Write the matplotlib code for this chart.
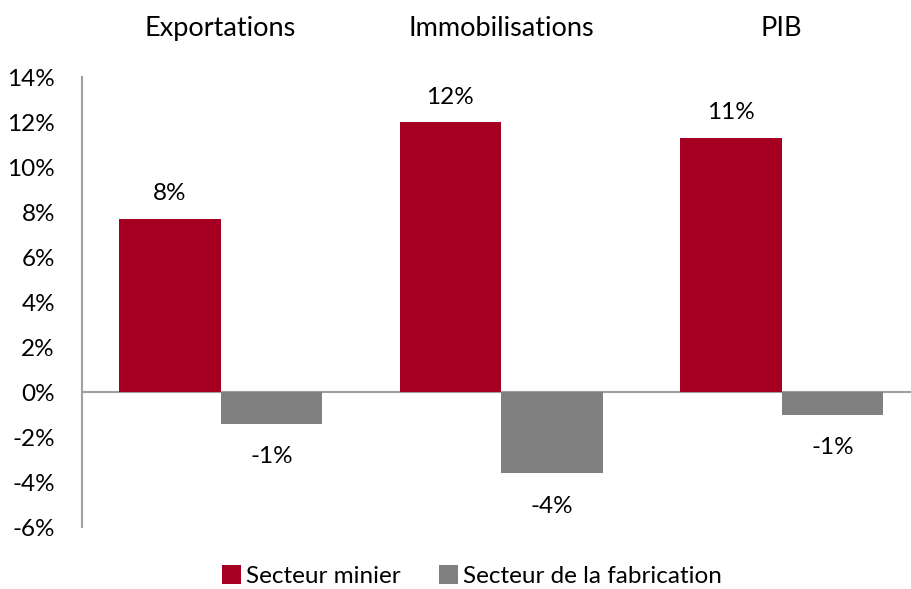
import matplotlib
matplotlib.use("Agg")
import matplotlib.pyplot as plt
import numpy as np

categories = ["Exportations", "Immobilisations", "PIB"]
minier = [7.7, 12.0, 11.3]
fabrication = [-1.4, -3.6, -1.0]
minier_labels = ["8%", "12%", "11%"]
fabrication_labels = ["-1%", "-4%", "-1%"]
yticks = [-6, -4, -2, 0, 2, 4, 6, 8, 10, 12, 14]

plt.rcParams['font.family'] = ['Lato', 'DejaVu Sans']

fig = plt.figure(figsize=(9.11, 5.89), dpi=100)
ax = fig.add_axes([0.090, 0.105, 0.910, 0.764])

x = np.arange(len(categories))
w = 0.362
red = "#A50021"
gray = "#808080"
b1 = ax.bar(x - w/2, minier, w, color=red, label="Secteur minier")
b2 = ax.bar(x + w/2, fabrication, w, color=gray, label="Secteur de la fabrication")

for xi, v, lab in zip(x, minier, minier_labels):
    ax.annotate(lab, (xi - w/2, v), xytext=(0, 18), textcoords="offset points",
                ha="center", va="center", fontsize=17.5, color="black")
for xi, v, lab in zip(x, fabrication, fabrication_labels):
    ax.annotate(lab, (xi + w/2, v), xytext=(0, -24), textcoords="offset points",
                ha="center", va="center", fontsize=17.5, color="black")

for xi, c in zip(x, categories):
    ax.text(xi, 1.108, c, transform=ax.get_xaxis_transform(), ha="center",
            va="center", fontsize=19.5, color="black")

ax.set_xlim(-0.494, 2.461)
ax.set_ylim(-6, 14)
ax.set_yticks(yticks)
ax.set_yticklabels([f"{t}%" for t in yticks], fontsize=17.5)
ax.tick_params(axis="y", length=0, pad=19.5)
ax.set_xticks([])
for s in ["top", "right", "bottom"]:
    ax.spines[s].set_visible(False)
ax.spines["left"].set_color("#A0A0A0")
ax.spines["left"].set_linewidth(1.5)
ax.axhline(0, color="#A0A0A0", linewidth=1.5, zorder=0)

leg = fig.legend(handles=[b1, b2], loc="center", bbox_to_anchor=(0.518, 0.022),
                 ncol=2, frameon=False, fontsize=17.5, handlelength=0.8,
                 handleheight=0.8, handletextpad=0.2, columnspacing=1.55,
                 borderpad=0.1)

fig.savefig("out.png", dpi=100)
